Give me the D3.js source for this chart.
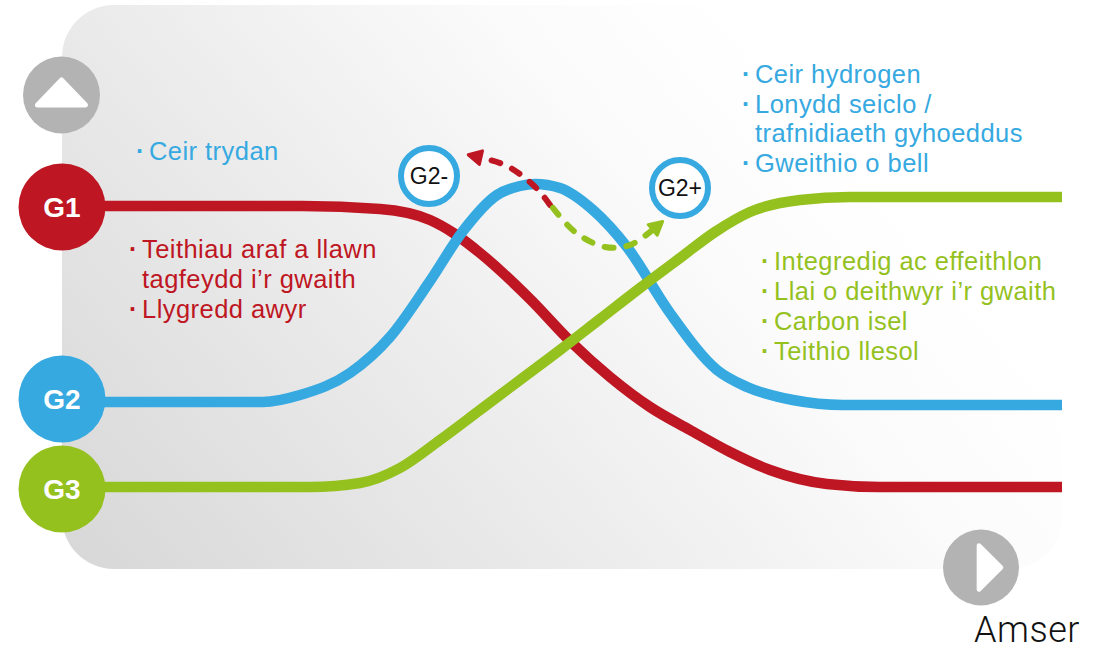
<!DOCTYPE html>
<html>
<head>
<meta charset="utf-8">
<script src="https://cdn.jsdelivr.net/npm/d3@7"></script>
<style>
  html, body { margin: 0; padding: 0; background: #fff; }
  svg { display: block; }
</style>
</head>
<body>
<div id="chart"></div>
<script>
// ---------- DATA ----------
const horizons = ["G1", "G2", "G3"];
// time (0-100) and level (0-100)
const g1Time  = [0, 24, 31.8, 36.8, 39.3, 41.8, 46.8, 50.8, 54.8, 58.8, 62.8, 66.8, 70.8, 76.5, 81.8, 100];
const g1Level = [88.5, 88.5, 87.75, 85, 81.5, 76.75, 65.25, 54.75, 45.75, 38.25, 32.5, 27, 22.5, 19, 18.25, 18.25];
const g2Time  = [0, 20.1, 23.8, 28.8, 32.8, 36.8, 40.1, 43.5, 45.8, 47.3, 49.8, 53.1, 56.5, 60.8, 65.5, 68.5, 73.1, 78.1, 100];
const g2Level = [39.5, 39.5, 41.25, 46.75, 55.75, 69.75, 82.25, 91.25, 93.5, 94, 93, 87.5, 78.25, 61.75, 47.5, 43.25, 40, 38.75, 38.75];
const g3Time  = [0, 24.8, 29.8, 33.8, 37.8, 41.8, 45.8, 49.8, 53.8, 57.8, 61.8, 65.3, 68.8, 73.8, 78.8, 100];
const g3Level = [18.25, 18.25, 19.25, 23, 30, 37.5, 45, 52.5, 60.25, 68, 75.5, 82, 87, 90, 90.75, 90.75];

// G2 shift arrows
const g2MinusTime  = [48.8, 47.8, 46.3, 44.3, 41.6];
const g2MinusLevel = [88.75, 92, 95.5, 98.75, 100.75];
const g2PlusTime   = [49.1, 51.3, 54.3, 56.8, 59.3];
const g2PlusLevel  = [88, 82, 78.25, 78.75, 83];
const subLabels = ["G2-", "G2+"];
const subTime  = [36.7, 61.8];
const subLevel = [96, 93];

// texts
const g1Notes = ["Teithiau araf a llawn", "tagfeydd i\u2019r gwaith", "Llygredd awyr"];
const g1Bullets = [true, false, true];
const g2LeftNotes = ["Ceir trydan"];
const g2RightNotes = ["Ceir hydrogen", "Lonydd seiclo /", "trafnidiaeth gyhoeddus", "Gweithio o bell"];
const g2RightBullets = [true, true, false, true];
const g3Notes = ["Integredig ac effeithlon", "Llai o deithwyr i\u2019r gwaith", "Carbon isel", "Teithio llesol"];
const axisLabel = "Amser";

// ---------- DRAW ----------
const W = 1119, H = 652;
const colors = { G1: "#be1622", G2: "#36a9e1", G3: "#95c11f" };
const grey = "#b3b3b3";
const font = "'Liberation Sans', Arial, sans-serif";

const svg = d3.select("#chart").append("svg").attr("width", W).attr("height", H);
const defs = svg.append("defs");

const x = d3.scaleLinear().domain([0, 100]).range([62, 1062]);
const y = d3.scaleLinear().domain([0, 100]).range([560, 160]);

// background gradient
const grad = defs.append("linearGradient").attr("id", "bg")
  .attr("gradientUnits", "userSpaceOnUse")
  .attr("x1", 62).attr("y1", 569).attr("x2", 720).attr("y2", 0);
grad.append("stop").attr("offset", 0).attr("stop-color", "#d7d7d7");
grad.append("stop").attr("offset", 0.45).attr("stop-color", "#ebebeb");
grad.append("stop").attr("offset", 0.8).attr("stop-color", "#fbfbfb");
grad.append("stop").attr("offset", 1).attr("stop-color", "#ffffff");

svg.append("rect")
  .attr("x", x(0)).attr("y", 5)
  .attr("width", x(100) - x(0)).attr("height", 564)
  .attr("rx", 52).attr("fill", "url(#bg)");

// arrow markers
function marker(id, color) {
  defs.append("marker").attr("id", id)
    .attr("markerUnits", "userSpaceOnUse")
    .attr("viewBox", "-4 -12 26 24")
    .attr("refX", 3).attr("refY", 0)
    .attr("markerWidth", 26).attr("markerHeight", 24)
    .attr("orient", "auto")
    .append("path")
    .attr("d", "M0,-7 L13,0 L0,7 Z")
    .attr("fill", color).attr("stroke", color)
    .attr("stroke-width", 3).attr("stroke-linejoin", "round");
}
marker("mRed", colors.G1);
marker("mGreen", colors.G3);

const line = d3.line().x(d => x(d[0])).y(d => y(d[1])).curve(d3.curveMonotoneX);
const series = [
  { key: "G1", t: g1Time, v: g1Level },
  { key: "G2", t: g2Time, v: g2Level },
  { key: "G3", t: g3Time, v: g3Level }
];
series.forEach(s => {
  svg.append("path")
    .datum(s.t.map((t, i) => [t, s.v[i]]))
    .attr("d", line)
    .attr("fill", "none")
    .attr("stroke", colors[s.key])
    .attr("stroke-width", 10.5);
});

// dashed arrows
const smooth = d3.line().x(d => x(d[0])).y(d => y(d[1])).curve(d3.curveCatmullRom);
svg.append("path")
  .datum(g2MinusTime.map((t, i) => [t, g2MinusLevel[i]]))
  .attr("d", smooth).attr("fill", "none")
  .attr("stroke", colors.G1).attr("stroke-width", 6)
  .attr("stroke-linecap", "round").attr("stroke-dasharray", "9 13")
  .attr("marker-end", "url(#mRed)");
svg.append("path")
  .datum(g2PlusTime.map((t, i) => [t, g2PlusLevel[i]]))
  .attr("d", smooth).attr("fill", "none")
  .attr("stroke", colors.G3).attr("stroke-width", 6)
  .attr("stroke-linecap", "round").attr("stroke-dasharray", "9 13")
  .attr("marker-end", "url(#mGreen)");

// G2- / G2+ circles
subLabels.forEach((lab, i) => {
  const g = svg.append("g").attr("transform", `translate(${x(subTime[i])},${y(subLevel[i])})`);
  g.append("circle").attr("r", 28).attr("fill", "#fff")
    .attr("stroke", colors.G2).attr("stroke-width", 6);
  g.append("text").text(lab)
    .attr("text-anchor", "middle").attr("dy", "0.36em")
    .attr("font-family", font).attr("font-size", 23).attr("fill", "#111");
});

// horizon circles
series.forEach((s, i) => {
  const g = svg.append("g").attr("transform", `translate(${x(0)},${y(s.v[0]) + (i === 2 ? 2 : (i === 1 ? -3 : 1))})`);
  g.append("circle").attr("r", 43.5).attr("fill", colors[s.key]);
  g.append("text").text(horizons[i])
    .attr("text-anchor", "middle").attr("dy", "0.36em")
    .attr("font-family", font).attr("font-weight", "bold")
    .attr("font-size", 28).attr("fill", "#fff");
});

// up arrow icon
const up = svg.append("g").attr("transform", "translate(61.5,95)");
up.append("circle").attr("r", 38.5).attr("fill", grey);
up.append("path").attr("d", "M0,-15 L24,10 L-24,10 Z")
  .attr("fill", "#fff").attr("stroke", "#fff")
  .attr("stroke-width", 5).attr("stroke-linejoin", "round");

// right arrow icon
const rt = svg.append("g").attr("transform", "translate(981,567.5)");
rt.append("circle").attr("r", 38).attr("fill", grey);
rt.append("path").attr("d", "M-1,-22 L22,1 L-1,24 Z")
  .attr("fill", "#fff").attr("stroke", "#fff")
  .attr("stroke-width", 5).attr("stroke-linejoin", "round")
  .attr("transform", "translate(-1,-1) scale(0.95)");

svg.append("text").text(axisLabel)
  .attr("x", 974).attr("y", 642)
  .attr("font-family", "Roboto, " + font).attr("font-weight", 300)
  .attr("letter-spacing", 0.5)
  .attr("font-size", 36).attr("fill", "#111");

// notes
function notes(list, bullets, bx, by0, color, step) {
  list.forEach((t, i) => {
    const yy = by0 + i * step;
    if (bullets[i]) {
      svg.append("text").text("\u00b7").attr("x", bx).attr("y", yy)
        .attr("font-family", font).attr("font-size", 25).attr("font-weight", "bold").attr("fill", color);
    }
    svg.append("text").text(t).attr("x", bx + 13).attr("y", yy)
      .attr("font-family", font).attr("font-size", 25.5)
      .attr("letter-spacing", 0.45).attr("fill", color);
  });
}
notes(g2LeftNotes, [true], 136, 160, colors.G2, 30);
notes(g1Notes, g1Bullets, 129, 258, colors.G1, 30);
notes(g2RightNotes, g2RightBullets, 742, 83, colors.G2, 29.7);
notes(g3Notes, [true, true, true, true], 761, 270, colors.G3, 30);
</script>
</body>
</html>
